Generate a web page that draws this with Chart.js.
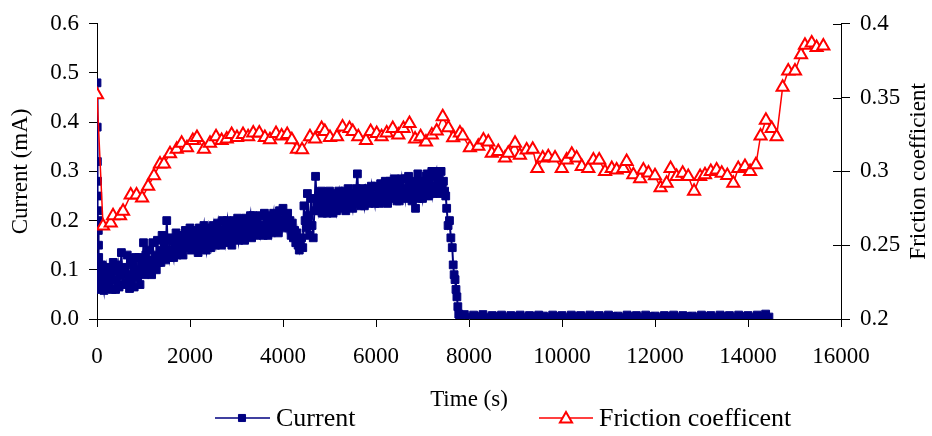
<!DOCTYPE html>
<html>
<head>
<meta charset="utf-8">
<title>Current and friction coefficient vs time</title>
<script src="https://cdn.jsdelivr.net/npm/chart.js@4.4.1/dist/chart.umd.min.js"></script>
<style>
  body { margin: 0; background: #fff; }
  canvas { display: block; }
</style>
</head>
<body>
<canvas id="myChart" width="932" height="436"></canvas>
<script>
// Current (mA) readings
const currentTime = [
  0, 4, 8, 12, 16, 20, 24, 28, 32, 36, 40, 45, 50, 60, 70, 80,
  100, 125, 150, 175, 200, 225, 250, 275, 300, 325,
  350, 375, 400, 425, 450, 475, 500, 525, 550, 575,
  600, 625, 650, 675, 700, 725, 750, 775, 800, 825,
  850, 875, 900, 925, 950, 975, 1000, 1025, 1050, 1075,
  1100, 1125, 1150, 1175, 1200, 1225, 1250, 1275, 1300, 1325,
  1350, 1375, 1400, 1425, 1450, 1475, 1500, 1525, 1550, 1575,
  1600, 1625, 1650, 1675, 1700, 1725, 1750, 1775, 1800, 1825,
  1850, 1875, 1900, 1925, 1950, 1975, 2000, 2025, 2050, 2075,
  2100, 2125, 2150, 2175, 2200, 2225, 2250, 2275, 2300, 2325,
  2350, 2375, 2400, 2425, 2450, 2475, 2500, 2525, 2550, 2575,
  2600, 2625, 2650, 2675, 2700, 2725, 2750, 2775, 2800, 2825,
  2850, 2875, 2900, 2925, 2950, 2975, 3000, 3025, 3050, 3075,
  3100, 3125, 3150, 3175, 3200, 3225, 3250, 3275, 3300, 3325,
  3350, 3375, 3400, 3425, 3450, 3475, 3500, 3525, 3550, 3575,
  3600, 3625, 3650, 3675, 3700, 3725, 3750, 3775, 3800, 3825,
  3850, 3875, 3900, 3925, 3950, 3975, 4000, 4025, 4050, 4075,
  4100, 4125, 4150, 4175, 4200, 4225, 4250, 4275, 4300, 4325,
  4350, 4375, 4400, 4425,
  4450, 4475, 4500, 4525, 4550, 4575, 4600, 4625, 4650, 4675, 4700, 4725,
  4750, 4775, 4800, 4825, 4850, 4875, 4900, 4925, 4950, 4975,
  5000, 5025, 5050, 5075, 5100, 5125, 5150, 5175, 5200, 5225,
  5250, 5275, 5300, 5325, 5350, 5375, 5400, 5425, 5450, 5475,
  5500, 5525, 5550, 5575, 5600, 5625, 5650, 5675, 5700, 5725,
  5750, 5775, 5800, 5825, 5850, 5875, 5900, 5925, 5950, 5975,
  6000, 6025, 6050, 6075, 6100, 6125, 6150, 6175, 6200, 6225,
  6250, 6275, 6300, 6325, 6350, 6375, 6400, 6425, 6450, 6475,
  6500, 6525, 6550, 6575, 6600, 6625, 6650, 6675, 6700, 6725,
  6750, 6775, 6800, 6825, 6850, 6875, 6900, 6925, 6950, 6975,
  7000, 7025, 7050, 7075, 7100, 7125, 7150, 7175, 7200, 7225,
  7250, 7275, 7300, 7325, 7350, 7375, 7400, 7425,
  7450, 7475, 7500, 7520, 7550, 7580, 7610, 7640, 7660, 7680, 7700, 7720, 7740, 7760, 7780,
  7800, 7900, 8000, 8100, 8200, 8300, 8400, 8500, 8600, 8700, 8800, 8900, 9000, 9100,
  9200, 9300, 9400, 9500, 9600, 9700, 9800, 9900, 10000, 10100, 10200, 10300, 10400, 10500, 10600, 10700,
  10800, 10900, 11000, 11100, 11200, 11300, 11400, 11500, 11600, 11700, 11800, 11900, 12000, 12100, 12200, 12300,
  12400, 12500, 12600, 12700, 12800, 12900, 13000, 13100, 13200, 13300, 13400, 13500, 13600, 13700, 13800, 13900,
  14000, 14100, 14200, 14300, 14380, 14450
];
const currentValue = [
  0.48, 0.39, 0.32, 0.28, 0.25, 0.22, 0.2, 0.18, 0.15, 0.125, 0.1, 0.085, 0.072, 0.095, 0.06, 0.08,
  0.11, 0.075, 0.058, 0.092, 0.105, 0.062, 0.085, 0.07, 0.1, 0.06,
  0.115, 0.08, 0.06, 0.097, 0.11, 0.065, 0.088, 0.135, 0.07, 0.1,
  0.105, 0.075, 0.13, 0.09, 0.062, 0.115, 0.08, 0.11, 0.065, 0.125,
  0.1, 0.085, 0.125, 0.07, 0.11, 0.095, 0.155, 0.09, 0.13, 0.105,
  0.14, 0.1, 0.12, 0.09, 0.155, 0.11, 0.13, 0.1, 0.16, 0.115,
  0.14, 0.115, 0.17, 0.13, 0.155, 0.12, 0.2, 0.14, 0.125, 0.16,
  0.165, 0.14, 0.125, 0.155, 0.175, 0.13, 0.15, 0.17, 0.14, 0.165,
  0.13, 0.16, 0.18, 0.145, 0.17, 0.155, 0.185, 0.14, 0.165, 0.15,
  0.18, 0.15, 0.165, 0.135, 0.185, 0.16, 0.145, 0.175, 0.19, 0.155,
  0.14, 0.17, 0.185, 0.155, 0.145, 0.175, 0.19, 0.16, 0.15, 0.18,
  0.195, 0.165, 0.18, 0.15, 0.2, 0.17, 0.155, 0.185, 0.2, 0.16,
  0.17, 0.19, 0.15, 0.18, 0.2, 0.165, 0.185, 0.205, 0.16, 0.175,
  0.2, 0.175, 0.19, 0.16, 0.205, 0.18, 0.17, 0.195, 0.21, 0.165,
  0.21, 0.18, 0.195, 0.17, 0.205, 0.185, 0.21, 0.175, 0.19, 0.17,
  0.215, 0.185, 0.2, 0.17, 0.21, 0.19, 0.175, 0.2, 0.215, 0.18,
  0.19, 0.205, 0.175, 0.22, 0.195, 0.185, 0.225, 0.2, 0.21, 0.19,
  0.215, 0.185, 0.2, 0.17, 0.195, 0.165, 0.18, 0.155, 0.175, 0.15,
  0.14, 0.16, 0.165, 0.145,
  0.23, 0.2, 0.185, 0.255, 0.21, 0.17, 0.245, 0.19, 0.165, 0.22, 0.29, 0.235,
  0.22, 0.25, 0.235, 0.26, 0.215, 0.245, 0.23, 0.255, 0.215, 0.24,
  0.26, 0.225, 0.245, 0.215, 0.255, 0.235, 0.22, 0.25, 0.26, 0.23,
  0.225, 0.25, 0.235, 0.26, 0.22, 0.245, 0.265, 0.23, 0.255, 0.24,
  0.225, 0.25, 0.24, 0.265, 0.295, 0.235, 0.255, 0.23, 0.265, 0.245,
  0.23, 0.26, 0.245, 0.265, 0.235, 0.255, 0.27, 0.24, 0.25, 0.235,
  0.27, 0.245, 0.26, 0.235, 0.275, 0.25, 0.265, 0.24, 0.28, 0.255,
  0.235, 0.265, 0.28, 0.25, 0.27, 0.245, 0.285, 0.26, 0.24, 0.275,
  0.24, 0.27, 0.285, 0.255, 0.26, 0.245, 0.285, 0.265, 0.29, 0.25,
  0.265, 0.24, 0.28, 0.255, 0.225, 0.27, 0.295, 0.245, 0.28, 0.26,
  0.245, 0.275, 0.26, 0.29, 0.295, 0.25, 0.28, 0.265, 0.3, 0.255,
  0.27, 0.29, 0.3, 0.26, 0.285, 0.255, 0.3, 0.265,
  0.28, 0.26, 0.25, 0.225, 0.19, 0.2, 0.165, 0.145, 0.11, 0.09, 0.08, 0.06, 0.045, 0.025, 0.01,
  0.006, 0.009, 0.004, 0.008, 0.005, 0.009, 0.004, 0.007, 0.005, 0.008, 0.004, 0.007, 0.005, 0.008,
  0.004, 0.007, 0.005, 0.008, 0.006, 0.004, 0.008, 0.005, 0.007, 0.004, 0.008, 0.005, 0.007, 0.004, 0.008, 0.005,
  0.007, 0.004, 0.008, 0.005, 0.006, 0.004, 0.008, 0.005, 0.007, 0.004, 0.008, 0.005, 0.006, 0.004, 0.007, 0.005,
  0.008, 0.004, 0.007, 0.005, 0.006, 0.004, 0.008, 0.005, 0.007, 0.004, 0.008, 0.005, 0.007, 0.004, 0.008, 0.005,
  0.007, 0.004, 0.008, 0.005, 0.01, 0.004
];

// Friction coefficient readings
const frictionTime = [
  0, 130, 295, 345, 495, 560, 725, 850, 970, 1100, 1225, 1355, 1440, 1570, 1715, 1820,
  1935, 2060, 2150, 2300, 2430, 2560, 2680, 2790, 2895, 3010, 3140, 3250, 3360, 3490, 3610, 3720,
  3850, 3970, 4090, 4190, 4300, 4410, 4580, 4690, 4830, 4900, 5010, 5160, 5280, 5430, 5500, 5620,
  5785, 5885, 6015, 6120, 6230, 6360, 6480, 6590, 6720, 6840, 6960, 7075, 7200, 7305, 7435, 7555,
  7660, 7805, 7865, 8020, 8200, 8310, 8415, 8490, 8630, 8775, 8845, 8990, 9095, 9240, 9370, 9470,
  9585, 9705, 9850, 9995, 10100, 10210, 10315, 10425, 10565, 10675, 10800, 10925, 11070, 11175, 11320, 11390,
  11535, 11680, 11750, 11860, 12000, 12120, 12250, 12335, 12465, 12595, 12715, 12840, 12970, 13075, 13200, 13325,
  13435, 13555, 13685, 13790, 13935, 14045, 14170, 14270, 14385, 14510, 14615, 14745, 14865, 15010, 15140, 15225,
  15370, 15475, 15620
];
const frictionValue = [
  0.352, 0.263, 0.265, 0.27, 0.27, 0.273, 0.284, 0.284, 0.282, 0.29, 0.297, 0.305, 0.305, 0.312, 0.315, 0.319,
  0.316, 0.321, 0.323, 0.315, 0.319, 0.3235, 0.321, 0.322, 0.325, 0.323, 0.325, 0.3235, 0.326, 0.326, 0.323, 0.3215,
  0.3257, 0.324, 0.325, 0.3215, 0.315, 0.3147, 0.3235, 0.322, 0.329, 0.327, 0.323, 0.3235, 0.33, 0.329, 0.327, 0.3235,
  0.321, 0.327, 0.3257, 0.3235, 0.326, 0.329, 0.3246, 0.329, 0.3324, 0.322, 0.3235, 0.32, 0.3246, 0.3273, 0.337, 0.3295,
  0.3228, 0.326, 0.324, 0.316, 0.317, 0.3213, 0.32, 0.3123, 0.3134, 0.309, 0.3123, 0.319, 0.311, 0.3145, 0.315, 0.302,
  0.309, 0.31, 0.309, 0.302, 0.3078, 0.3117, 0.309, 0.3033, 0.302, 0.3078, 0.3078, 0.3, 0.302, 0.301, 0.302, 0.3067,
  0.2978, 0.295, 0.301, 0.299, 0.297, 0.289, 0.292, 0.302, 0.2966, 0.2988, 0.2966, 0.2866, 0.2966, 0.2978, 0.3, 0.301,
  0.2988, 0.2973, 0.292, 0.302, 0.3033, 0.3, 0.3045, 0.324, 0.3347, 0.329, 0.3235, 0.357, 0.368, 0.368, 0.379, 0.3854,
  0.387, 0.3839, 0.385
];

// Axis ticks
const timeTicks = [0, 2000, 4000, 6000, 8000, 10000, 12000, 14000, 16000];
const currentTicks = [0.0, 0.1, 0.2, 0.3, 0.4, 0.5, 0.6];
const frictionTicks = [0.2, 0.25, 0.3, 0.35, 0.4];

const NAVY = "#000080";
const RED = "#FF0000";
const SERIF = '"Liberation Serif", "Times New Roman", serif';

Chart.defaults.font.family = SERIF;
Chart.defaults.color = "#000";

// legend, right-hand title and the inner half of the right ticks
const extras = {
    id: "extras",
    afterDraw(chart) {
        const ctx = chart.ctx;
        const y1 = chart.scales.y1;
        ctx.save();

        ctx.strokeStyle = "#000";
        ctx.lineWidth = 1;
        frictionTicks.forEach(v => {
            const py = Math.round(y1.getPixelForValue(v)) + 0.5;
            ctx.beginPath();
            ctx.moveTo(y1.left - 8, py);
            ctx.lineTo(y1.left, py);
            ctx.stroke();
        });

        ctx.font = "23px " + SERIF;
        ctx.fillStyle = "#000";
        ctx.textAlign = "center";
        ctx.textBaseline = "middle";
        ctx.translate(919, (chart.chartArea.top + chart.chartArea.bottom) / 2);
        ctx.rotate(-Math.PI / 2);
        ctx.fillText("Friction coefficient", 0, 0);
        ctx.restore();

        // legend
        const ly = 418;
        ctx.save();
        ctx.font = "26px " + SERIF;
        ctx.textBaseline = "middle";
        ctx.textAlign = "left";

        ctx.strokeStyle = NAVY;
        ctx.fillStyle = NAVY;
        ctx.lineWidth = 1.5;
        ctx.beginPath();
        ctx.moveTo(215, ly);
        ctx.lineTo(270, ly);
        ctx.stroke();
        ctx.lineWidth = 1;
        Chart.helpers.drawPoint(ctx, {pointStyle: "rect", radius: 5, borderWidth: 1}, 242, ly);
        ctx.fillStyle = "#000";
        ctx.fillText("Current", 276, ly + 1);

        ctx.strokeStyle = RED;
        ctx.lineWidth = 1.5;
        ctx.beginPath();
        ctx.moveTo(539, ly);
        ctx.lineTo(593, ly);
        ctx.stroke();
        ctx.fillStyle = "#fff";
        ctx.lineWidth = 2;
        Chart.helpers.drawPoint(ctx, {pointStyle: "triangle", radius: 7, borderWidth: 2}, 566, ly + 1);
        ctx.fillStyle = "#000";
        ctx.fillText("Friction coefficent", 599, ly + 1);
        ctx.restore();
    }
};

const tickFont = {size: 23, family: SERIF};
const titleFont = {size: 23, family: SERIF};

new Chart("myChart", {
    type: "line",
    data: {
        datasets: [{
            label: "Friction coefficent",
            yAxisID: "y1",
            order: 0,
            data: frictionTime.map((t, i) => ({x: t, y: frictionValue[i]})),
            borderColor: RED,
            borderWidth: 1.5,
            pointStyle: "triangle",
            pointRadius: 7,
            pointBorderWidth: 2,
            pointBorderColor: RED,
            pointBackgroundColor: "#fff",
            tension: 0
        }, {
            label: "Current",
            yAxisID: "y",
            order: 1,
            data: currentTime.map((t, i) => ({x: t, y: currentValue[i]})),
            borderColor: NAVY,
            borderWidth: 2,
            pointStyle: "rect",
            pointRadius: 5.5,
            pointBorderWidth: 1,
            pointBorderColor: NAVY,
            pointBackgroundColor: NAVY,
            tension: 0
        }]
    },
    options: {
        responsive: false,
        animation: false,
        layout: {padding: {top: 21, left: 0, right: 0, bottom: 17}},
        plugins: {
            legend: {display: false},
            tooltip: {enabled: false}
        },
        scales: {
            x: {
                type: "linear",
                min: 0,
                max: 16000,
                afterBuildTicks: s => { s.ticks = timeTicks.map(v => ({value: v})); },
                afterFit: s => { s.height = 100; },
                ticks: {font: tickFont, padding: 16, maxRotation: 0, autoSkip: false,
                        callback: v => String(v)},
                grid: {drawOnChartArea: false, color: "#000", tickLength: 8},
                border: {color: "#000", width: 1},
                title: {display: true, text: "Time (s)", font: titleFont, padding: {top: 0, bottom: 5}}
            },
            y: {
                position: "left",
                min: 0,
                max: 0.6,
                afterBuildTicks: s => { s.ticks = currentTicks.map(v => ({value: v})); },
                afterFit: s => { s.width = 97; },
                ticks: {font: tickFont, padding: 10, callback: v => v.toFixed(1)},
                grid: {drawOnChartArea: false, color: "#000", tickLength: 8},
                border: {color: "#000", width: 1},
                title: {display: true, text: "Current (mA)", font: titleFont, padding: {top: 7, bottom: 0}}
            },
            y1: {
                position: "right",
                min: 0.2,
                max: 0.4,
                afterBuildTicks: s => { s.ticks = frictionTicks.map(v => ({value: v})); },
                afterFit: s => { s.width = 91; },
                ticks: {font: tickFont, padding: 10, callback: v => String(+v.toFixed(2))},
                grid: {drawOnChartArea: false, color: "#000", tickLength: 9},
                border: {color: "#000", width: 1}
            }
        }
    },
    plugins: [extras]
});
</script>
</body>
</html>
